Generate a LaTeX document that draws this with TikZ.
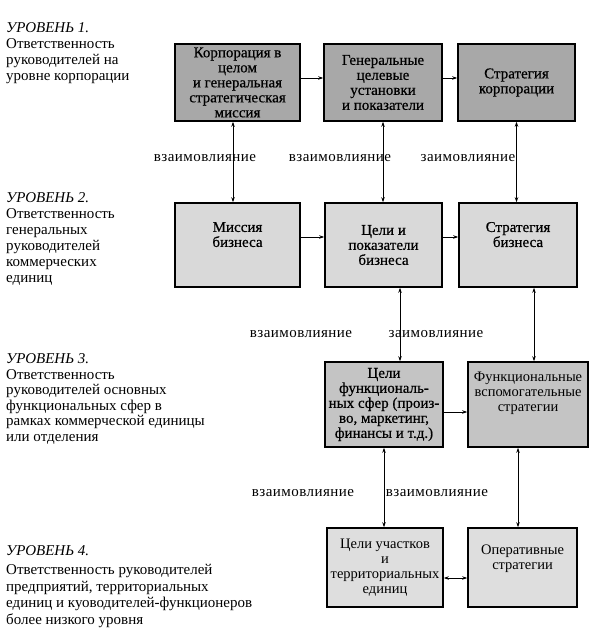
\documentclass[tikz,border=0pt]{standalone}
\usepackage{fontspec}
\setmainfont{Liberation Serif}
\newfontfamily\spacedfont[LetterSpace=3]{Liberation Serif}
\newfontfamily\heavyfont[FakeBold=0.6]{Liberation Serif}
\usetikzlibrary{arrows.meta}

\definecolor{levelone}{gray}{0.66}
\definecolor{leveltwo}{gray}{0.85}
\definecolor{levelthree}{gray}{0.77}
\definecolor{levelfour}{gray}{0.87}

\tikzset{
	block/.style={draw, line width=1.6pt, align=center, inner sep=1pt,
		font=\heavyfont\fontsize{15}{15}\selectfont},
	lightblock/.style={block, font=\fontsize{14.5}{15}\selectfont},
	influence/.style={inner sep=0pt, font=\spacedfont\fontsize{15}{16}\selectfont},
	leveltext/.style={anchor=north west, align=left, inner sep=0pt,
		font=\fontsize{15}{16}\selectfont},
	link/.style={line width=0.8pt, -{Stealth[length=5pt,width=3.5pt]}},
	mutual/.style={line width=0.8pt,
		{Stealth[length=5pt,width=3.5pt]}-{Stealth[length=5pt,width=3.5pt]}},
}

\begin{document}
\begin{tikzpicture}[x=1pt,y=-1pt]
	\useasboundingbox (0,0) rectangle (605,636);

	% levels on the left
	\node[leveltext] (lvlone) at (6,22.6)
		{\textit{УРОВЕНЬ 1.}\\ Ответственность\\ руководителей на\\ уровне корпорации};
	\node[leveltext] (lvltwo) at (6,192.6)
		{\textit{УРОВЕНЬ 2.}\\ Ответственность\\ генеральных\\ руководителей\\ коммерческих\\ единиц};
	\node[leveltext, font=\fontsize{15}{15.5}\selectfont] (lvlthree) at (6,353.6)
		{\textit{УРОВЕНЬ 3.}\\ Ответственность\\ руководителей основных\\ функциональных сфер в\\ рамках коммерческой единицы\\ или отделения};
	\node[leveltext, font=\fontsize{15}{16.5}\selectfont] (lvlfour) at (6,545.6)
		{\textit{УРОВЕНЬ 4.}\\[2.5pt] Ответственность руководителей\\ предприятий, территориальных\\ единиц и куоводителей-функционеров\\ более низкого уровня};

	% boxes
	\node[block, fill=levelone, minimum width=125pt, minimum height=77pt] (corp) at (237.5,82.5)
		{Корпорация в\\ целом\\ и генеральная\\ стратегическая\\ миссия};
	\node[block, fill=levelone, minimum width=118pt, minimum height=77pt] (goals) at (383,82.5)
		{Генеральные\\ целевые\\ установки\\ и показатели};
	\node[block, fill=levelone, minimum width=117pt, minimum height=77pt] (corpstrat) at (516.5,82.5)
		{Стратегия\\ корпорации};

	\node[block, fill=leveltwo, minimum width=125pt, minimum height=84pt] (mission) at (237.5,245)
		{Миссия\\ бизнеса\\[6pt]};
	\node[block, fill=leveltwo, minimum width=117pt, minimum height=84pt] (bizgoals) at (383.5,245)
		{Цели и\\ показатели\\ бизнеса};
	\node[block, fill=leveltwo, minimum width=118pt, minimum height=84pt] (bizstrat) at (518,245)
		{Стратегия\\ бизнеса\\[6pt]};

	\node[block, fill=levelthree, minimum width=118pt, minimum height=85pt] (funcgoals) at (384,404.5)
		{Цели\\ функциональ-\\ ных сфер (произ-\\ во, маркетинг,\\ финансы и т.д.)};
	\node[lightblock, fill=levelthree, minimum width=120pt, minimum height=85pt] (funcstrat) at (528,404.5)
		{Функциональные\\ вспомогательные\\ стратегии\\[10pt]};

	\node[lightblock, fill=levelfour, minimum width=116pt, minimum height=79pt] (unitgoals) at (385,567.5)
		{Цели участков\\ и\\ территориальных\\ единиц};
	\node[lightblock, fill=levelfour, minimum width=109pt, minimum height=79pt] (opstrat) at (522.5,567.5)
		{Оперативные\\ стратегии\\[6pt]};

	% labels
	\node[influence] (inflA) at (205,158) {взаимовлияние};
	\node[influence] (inflB) at (340,158) {взаимовлияние};
	\node[influence] (inflC) at (468,158) {заимовлияние};
	\node[influence] (inflD) at (301,334) {взаимовлияние};
	\node[influence] (inflE) at (436,334) {заимовлияние};
	\node[influence] (inflF) at (303,493) {взаимовлияние};
	\node[influence] (inflG) at (437,493) {взаимовлияние};

	% connectors
	\draw[link] ([yshift=4.5pt]corp.east) -- ([yshift=4.5pt]corp.east -| goals.west);
	\draw[link] ([yshift=4.5pt]goals.east) -- ([yshift=4.5pt]goals.east -| corpstrat.west);
	\draw[link] ([yshift=8pt]mission.east) -- ([yshift=8pt]mission.east -| bizgoals.west);
	\draw[link] ([yshift=8pt]bizgoals.east) -- ([yshift=8pt]bizgoals.east -| bizstrat.west);
	\draw[link] ([yshift=-7.5pt]funcgoals.east) -- ([yshift=-7.5pt]funcgoals.east -| funcstrat.west);
	\draw[mutual] ([yshift=-10.5pt]unitgoals.east) -- ([yshift=-10.5pt]unitgoals.east -| opstrat.west);

	\draw[mutual] ([xshift=-4.5pt]corp.south) -- ([xshift=-4.5pt]corp.south |- mission.north);
	\draw[mutual] (goals.south) -- (goals.south |- bizgoals.north);
	\draw[mutual] (corpstrat.south) -- (corpstrat.south |- bizstrat.north);
	\draw[mutual] ([xshift=16.5pt]bizgoals.south) -- ([xshift=16.5pt]bizgoals.south |- funcgoals.north);
	\draw[mutual] ([xshift=16pt]bizstrat.south) -- ([xshift=16pt]bizstrat.south |- funcstrat.north);
	\draw[mutual] (funcgoals.south) -- (funcgoals.south |- unitgoals.north);
	\draw[mutual] ([xshift=-10pt]funcstrat.south) -- ([xshift=-10pt]funcstrat.south |- opstrat.north);
\end{tikzpicture}
\end{document}
